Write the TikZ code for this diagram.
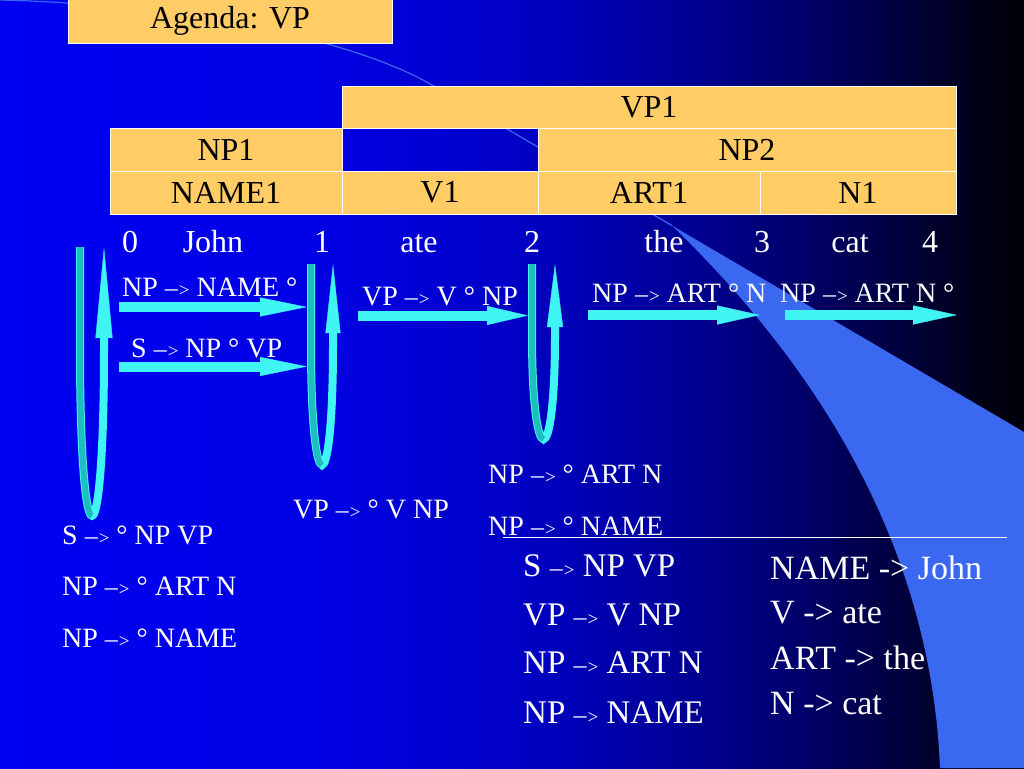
\documentclass[tikz,border=0pt]{standalone}
\usepackage{fontspec}
\setmainfont{Liberation Serif}
\usetikzlibrary{arrows.meta}
\definecolor{cellorange}{HTML}{FFCC66}
\definecolor{swooshblue}{HTML}{3A68F0}
\definecolor{arrcyan}{HTML}{40F4F4}
\definecolor{arrteal}{HTML}{1EBEBE}
\pgfdeclarehorizontalshading{bgshade}{100bp}{rgb(0bp)=(0,0,0.95); rgb(25bp)=(0,0,0.95); rgb(40bp)=(0,0,0.9); rgb(50bp)=(0,0,0.78); rgb(58bp)=(0,0,0.6); rgb(64bp)=(0,0,0.42); rgb(69bp)=(0,0,0.24); rgb(73bp)=(0,0,0.08); rgb(75bp)=(0,0,0.03); rgb(100bp)=(0,0,0.03)}
\newcommand\sa{{\fontsize{26}{26}\selectfont --}\kern1pt{\fontsize{19}{19}\selectfont >}}
\begin{document}
\begin{tikzpicture}[x=1pt,y=-1pt,
  cell/.style={draw=white, line width=0.8pt, fill=cellorange, inner sep=0pt, font=\fontsize{32}{32}\selectfont, text=black},
  word/.style={font=\fontsize{32}{32}\selectfont, text=white, anchor=base, inner sep=0pt},
  lab/.style={font=\fontsize{28}{28}\selectfont, text=white, anchor=base west, inner sep=0pt},
  gram/.style={font=\fontsize{33}{33}\selectfont, text=white, anchor=base west, inner sep=0pt},
  gramr/.style={font=\fontsize{34}{34}\selectfont, text=white, anchor=base west, inner sep=0pt},
  barrow/.style={draw=arrcyan, line width=10pt},
  loopfront/.style={draw=arrcyan, line width=8pt},
  loopback/.style={draw=arrteal, line width=6pt}]
\shade[shading=bgshade] (0,0) rectangle (1024,768);
\useasboundingbox (0,0) rectangle (1024,768);
% swoosh
\fill[swooshblue] (672,225.6) -- (1024,432) -- (1024,768) -- (940,768) .. controls (930,520) and (790,340) .. (672,225.6) -- cycle;
\draw[swooshblue, line width=1.2pt] (0,0) .. controls (200,5) and (360,43) .. (432,85) -- (672,225.6);
% chart
\node[cell, minimum width=324pt, minimum height=44pt] (agenda) at (230,21) {Agenda: VP};
\node[cell, minimum width=614pt, minimum height=42pt] (vp1) at (649,107) {VP1};
\node[cell, minimum width=232pt, minimum height=43pt] (np1) at (226,149.5) {NP1};
\node[cell, minimum width=418pt, minimum height=43pt] (np2) at (747,149.5) {NP2};
\node[cell, minimum width=232pt, minimum height=43pt] (name1) at (226,192.5) {NAME1};
\node[cell, minimum width=196pt, minimum height=43pt] (v1) at (440,192.5) {V1};
\node[cell, minimum width=222pt, minimum height=43pt] (art1) at (649,192.5) {ART1};
\node[cell, minimum width=196pt, minimum height=43pt] (n1) at (858,192.5) {N1};
% words
\node[word] (w0) at (130,252) {0};
\node[word] (wjohn) at (213,252) {John};
\node[word] (w1) at (322,252) {1};
\node[word] (wate) at (419,252) {ate};
\node[word] (w2) at (532,252) {2};
\node[word] (wthe) at (664,252) {the};
\node[word] (w3) at (762,252) {3};
\node[word] (wcat) at (850,252) {cat};
\node[word] (w4) at (930,252) {4};
% labels
\node[lab] (l1) at (122,296) {NP \sa{} NAME °};
\node[lab] (l2) at (131,357) {S \sa{} NP ° VP};
\node[lab] (l3) at (362,305) {VP \sa{} V ° NP};
\node[lab] (l4) at (592,302) {NP \sa{} ART ° N};
\node[lab] (l5) at (780,302) {NP \sa{} ART N °};
\node[lab] (l6) at (488,483) {NP \sa{} ° ART N};
\node[lab] (l7) at (488,535) {NP \sa{} ° NAME};
\node[lab] (l8) at (293,518) {VP \sa{} ° V NP};
\node[lab] (l9) at (62,544) {S \sa{} ° NP VP};
\node[lab] (l10) at (62,595) {NP \sa{} ° ART N};
\node[lab] (l11) at (62,647) {NP \sa{} ° NAME};
\coordinate (ulS) at (503,537);
\coordinate (ulE) at (1007,537);
\draw[white, line width=1pt] (ulS) -- (ulE);
% grammar
\node[gram] (g1) at (523,576) {S \sa{} NP VP};
\node[gram] (g2) at (523,625) {VP \sa{} V NP};
\node[gram] (g3) at (523,673) {NP \sa{} ART N};
\node[gram] (g4) at (523,723) {NP \sa{} NAME};
\node[gramr] (g5) at (770,579) {NAME -{}> John};
\node[gramr] (g6) at (770,623) {V -{}> ate};
\node[gramr] (g7) at (770,669) {ART -{}> the};
\node[gramr] (g8) at (770,714) {N -{}> cat};
% block arrows
\coordinate (a1s) at (119,307); \coordinate (a1e) at (307,307);
\coordinate (a2s) at (119,366.5); \coordinate (a2e) at (307,366.5);
\coordinate (a3s) at (358,315.5); \coordinate (a3e) at (528,315.5);
\coordinate (a4s) at (588,315); \coordinate (a4e) at (760,315);
\coordinate (a5s) at (785,315); \coordinate (a5e) at (957,315);
\draw[barrow, -{Triangle[length=47pt,width=19pt,line width=0.4pt]}] (a1s) -- (a1e);
\draw[barrow, -{Triangle[length=47pt,width=19pt,line width=0.4pt]}] (a2s) -- (a2e);
\draw[barrow, -{Triangle[length=41pt,width=19pt,line width=0.4pt]}] (a3s) -- (a3e);
\draw[barrow, -{Triangle[length=43pt,width=19pt,line width=0.4pt]}] (a4s) -- (a4e);
\draw[barrow, -{Triangle[length=44pt,width=19pt,line width=0.4pt]}] (a5s) -- (a5e);
% loops
\coordinate (u0l) at (80,247); \coordinate (u0r) at (104,247);
\coordinate (u1l) at (311,264); \coordinate (u1r) at (333,264);
\coordinate (u2l) at (532,264); \coordinate (u2r) at (555,264);
\draw[loopfront, -{Triangle[length=91pt,width=17pt,line width=0.4pt]}] (u0l) -- (80,350) .. controls (80,571) and (104,571) .. (104,350) -- (u0r);
\draw[loopback] (u0l) -- (80,350) .. controls (80,460.5) and (86,515.75) .. (92,515.75);
\draw[loopfront, -{Triangle[length=69pt,width=15pt,line width=0.4pt]}] (u1l) -- (311,345) .. controls (311,505) and (333,505) .. (333,345) -- (u1r);
\draw[loopback] (u1l) -- (311,345) .. controls (311,425) and (316.5,465) .. (322,465);
\draw[loopfront, -{Triangle[length=63pt,width=16pt,line width=0.4pt]}] (u2l) -- (532,335) .. controls (532,474) and (555,474) .. (555,335) -- (u2r);
\draw[loopback] (u2l) -- (532,335) .. controls (532,404.5) and (537.75,439.25) .. (543.5,439.25);
\end{tikzpicture}
\end{document}
